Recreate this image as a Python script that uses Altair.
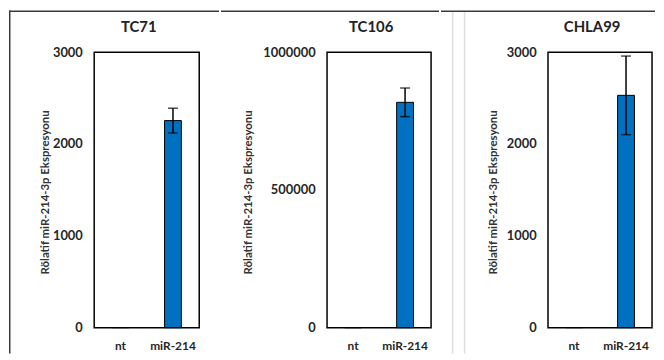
import altair as alt
import pandas as pd

# ---- data ----
groups = ["nt", "miR-214"]
cells = ["TC71", "TC106", "CHLA99"]
tc71_vals = [1, 2255]
tc71_err = [0, 135]
tc106_vals = [1, 818000]
tc106_err = [0, 52000]
chla99_vals = [1, 2530]
chla99_err = [0, 428]
y_max = [3000, 1000000, 3000]
y_ticks = [[0, 1000, 2000, 3000], [0, 500000, 1000000], [0, 1000, 2000, 3000]]

Y_TITLE = "Rölatif miR-214-3p Ekspresyonu"
FONT = "Lato"
BLUE = "#0070C0"

# frame geometry (panel-relative pixels)
frame = [(-86, 126), (-107, 113), (-108, 108)]
title_x = [-49, -79, -55]
widths = [106, 105, 105]
H = 278
TOP = -42
BOTTOM = 304


def panel(i, vals, errs):
    df = pd.DataFrame({"grup": groups, "deger": vals, "hata": errs})
    df["alt"] = df["deger"] - df["hata"]
    df["ust"] = df["deger"] + df["hata"]
    err_df = df[df["hata"] > 0]

    x = alt.X("grup:N", sort=groups,
              scale=alt.Scale(paddingInner=0, paddingOuter=0),
              axis=alt.Axis(title=None, labelAngle=0, labelFont=FONT, labelFontSize=12,
                            labelFontWeight="bold", labelColor="#262626", labelPadding=13,
                            ticks=False, tickSize=0, domain=False))
    yscale = alt.Scale(domain=[0, y_max[i]], nice=False, zero=True)
    y = alt.Y("deger:Q", scale=yscale,
              axis=alt.Axis(title=Y_TITLE, values=y_ticks[i], format="d", grid=False,
                            domain=False, ticks=False, tickSize=0, labelFont=FONT,
                            labelFontSize=13, labelFontWeight="bold", labelColor="#262626",
                            labelPadding=12, titleFont=FONT, titleFontSize=11.5,
                            titleFontWeight="bold", titleColor="#333333",
                            titleX=title_x[i], titleY=H / 2 + 2, titleBaseline="middle",
                            titleAngle=270))

    base = alt.Chart(df)
    bars = base.mark_bar(size=17, color=BLUE, stroke="black", strokeWidth=1).encode(x=x, y=y)
    eb = alt.Chart(err_df)
    rule = eb.mark_rule(color="black", strokeWidth=1.5).encode(
        x=alt.X("grup:N", sort=groups), y=alt.Y("alt:Q", scale=yscale), y2="ust:Q")
    cap_lo = eb.mark_tick(color="black", size=10, thickness=1.5).encode(
        x=alt.X("grup:N", sort=groups), y=alt.Y("alt:Q", scale=yscale))
    cap_hi = eb.mark_tick(color="black", size=10, thickness=1.5).encode(
        x=alt.X("grup:N", sort=groups), y=alt.Y("ust:Q", scale=yscale))

    one = pd.DataFrame({"k": [0]})
    x0, x1 = frame[i]
    top_line = alt.Chart(one).mark_rect(color="#3a3a3a", strokeWidth=0).encode(
        x=alt.value(x0), x2=alt.value(x1), y=alt.value(TOP), y2=alt.value(TOP + 1.5))
    title = alt.Chart(one).mark_text(font=FONT, fontSize=15, fontWeight="bold",
                                     color="#222222", align="center", baseline="middle").encode(
        x=alt.value(widths[i] / 2 - 8), y=alt.value(-25), text=alt.value(cells[i]))
    layers = [top_line, bars, rule, cap_lo, cap_hi, title]
    if i == 0:
        left_line = alt.Chart(one).mark_rect(color="#3a3a3a", strokeWidth=0).encode(
            x=alt.value(x0), x2=alt.value(x0 + 1.5), y=alt.value(TOP), y2=alt.value(BOTTOM))
        layers.append(left_line)
    if i == 2:
        for sx in (-97, -85):
            sep = alt.Chart(one).mark_rect(color="#dddddd", strokeWidth=0).encode(
                x=alt.value(sx), x2=alt.value(sx + 1.5), y=alt.value(TOP + 1.5),
                y2=alt.value(BOTTOM))
            layers.append(sep)

    return alt.layer(*layers).properties(width=widths[i], height=H)


p1 = panel(0, tc71_vals, tc71_err)
p2 = panel(1, tc106_vals, tc106_err)
p3 = panel(2, chla99_vals, chla99_err)

chart = alt.hconcat(p1, p2, p3, spacing=0).properties(
    padding=0, background="white"
).configure_view(stroke="black", strokeWidth=1.5, fill="white")

chart.save("out.html", embed_options={"renderer": "svg", "actions": False})
